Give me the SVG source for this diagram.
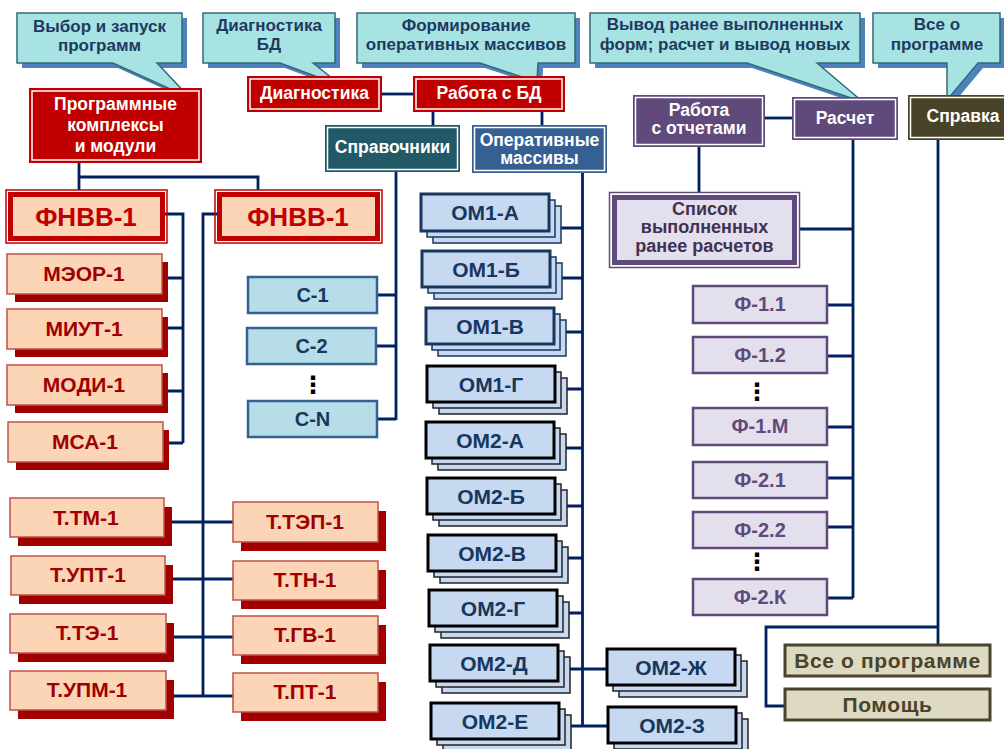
<svg xmlns="http://www.w3.org/2000/svg" width="1004" height="749" viewBox="0 0 1004 749">
<style>
text{font-family:"Liberation Sans",Arial,sans-serif;font-weight:bold;text-anchor:middle}
.co{fill:#A8E3E4;stroke:#2F6B78;stroke-width:1.5}
.cosh{fill:#4F81BD}
.cot{fill:#1F3A5F;font-size:17px}
.red{fill:#C00000}
.wl{fill:none;stroke:#fff;stroke-width:1.5}
.wt{fill:#fff;font-size:17.5px}
.fo{fill:none;stroke:#C00000;stroke-width:1.5}
.fi{fill:#FBD5B5;stroke:#C00000;stroke-width:5}
.ft{fill:#C00000;font-size:26px}
.pk{fill:#FBD5B5;stroke:#C0504D;stroke-width:1.5}
.sh{fill:#A00000}
.pt{fill:#A00000;font-size:21px}
.cb{fill:#B7DEE8;stroke:#366092;stroke-width:2.5}
.ct{fill:#17375E;font-size:20px}
.om{fill:#C6D9F1;stroke:#17375E;stroke-width:1.5}
.omf{fill:#C6D9F1;stroke:#17375E;stroke-width:3}
.omk{fill:#C6D9F1;stroke:#000;stroke-width:3}
.omb{fill:#C6D9F1;stroke:#222;stroke-width:1.5}
.ot{fill:#17375E;font-size:21px}
.fb{fill:#E4DFEC;stroke:#604A7B;stroke-width:2.5}
.fbt{fill:#604A7B;font-size:20px}
.bb{fill:#DDD9C3;stroke:#4A452A;stroke-width:3}
.bt{fill:#494429;font-size:21px;letter-spacing:0.6px}
.st{fill:#3F3151;font-size:18px}
.dots{fill:#000;font-family:"DejaVu Sans",sans-serif;font-size:24px;font-weight:bold}
#connectors path{fill:none;stroke:#002060;stroke-width:2.8}
</style>

<g id="connectors">
<path d="M79,163 V190 M79,177 H258 V190"/>
<path d="M382,94 H413"/>
<path d="M433,112 V125 M542,112 V125"/>
<path d="M396,172 V420 M377,295 H396 M376,346 H396 M377,419 H396"/>
<path d="M582.5,173 V726 M560,228 H582 M561,278 H582 M566,332 H582 M567,389 H582 M566,448 H582 M567,506 H582 M568,558 H582 M569,613 H582 M570,669 H607 M570,726 H608"/>
<path d="M160,214 H183 V443 M162,278 H183 M165,328 H183 M165,391 H183 M165,443 H183"/>
<path d="M218,214 H203 V696 M172,522 H233 M172,579 H233 M172,637 H233 M172,696 H233"/>
<path d="M699,147 V192"/>
<path d="M765,118 H792"/>
<path d="M853,140 V598 M800,229 H853 M827,305 H853 M827,356 H853 M827,427 H853 M827,478 H853 M827,527 H853 M827,598 H853"/>
<path d="M938,140 V645 M938,627 H766 V706 H785"/>
</g>

<!-- callouts -->
<g id="callout-vybor">
<polygon class="cosh" transform="translate(5,5)" points="17,13 182,13 182,63 157,63 190,98 113,63 17,63"/>
<polygon class="co" points="17,13 182,13 182,63 157,63 190,98 113,63 17,63"/>
<text class="cot" x="99.5" y="32">Выбор и запуск</text>
<text class="cot" x="99.5" y="51">программ</text>
</g>
<g id="callout-diag">
<polygon class="cosh" transform="translate(5,5)" points="203,13 335,13 335,63 313,63 342,86 280,63 203,63"/>
<polygon class="co" points="203,13 335,13 335,63 313,63 342,86 280,63 203,63"/>
<text class="cot" x="269" y="31">Диагностика</text>
<text class="cot" x="269" y="50">БД</text>
</g>
<g id="callout-form">
<polygon class="cosh" transform="translate(5,5)" points="357,13 575,13 575,63 538,63 537,82 480,63 357,63"/>
<polygon class="co" points="357,13 575,13 575,63 538,63 537,82 480,63 357,63"/>
<text class="cot" x="466" y="31">Формирование</text>
<text class="cot" x="466" y="50">оперативных массивов</text>
</g>
<g id="callout-vyvod">
<polygon class="cosh" transform="translate(5,5)" points="590,13 860,13 860,63 817,63 863,102 747,63 590,63"/>
<polygon class="co" points="590,13 860,13 860,63 817,63 863,102 747,63 590,63"/>
<text class="cot" x="725" y="30">Вывод ранее выполненных</text>
<text class="cot" x="725" y="50">форм; расчет и вывод новых</text>
</g>
<g id="callout-vse">
<polygon class="cosh" transform="translate(5,5)" points="873,13 1000,13 1000,63 978,63 947,100 947,63 873,63"/>
<polygon class="co" points="873,13 1000,13 1000,63 978,63 947,100 947,63 873,63"/>
<text class="cot" x="937" y="30">Все о</text>
<text class="cot" x="937" y="50">программе</text>
</g>

<!-- top red boxes -->
<g id="programmnye">
<rect class="red" x="29" y="88" width="173" height="75"/>
<rect class="wl" x="32" y="91" width="167" height="69"/>
<text class="wt" x="115.5" y="110">Программные</text>
<text class="wt" x="115.5" y="131">комплексы</text>
<text class="wt" x="115.5" y="152">и модули</text>
</g>
<g id="diagnostika">
<rect class="red" x="247" y="76" width="135" height="36"/>
<rect class="wl" x="250" y="79" width="129" height="30"/>
<text class="wt" x="314.5" y="99">Диагностика</text>
</g>
<g id="rabota-bd">
<rect class="red" x="413" y="76" width="152" height="36"/>
<rect class="wl" x="416" y="79" width="146" height="30"/>
<text class="wt" x="489" y="99">Работа с БД</text>
</g>
<g id="spravochniki">
<rect x="325" y="125" width="135" height="47" fill="#215967"/>
<rect class="wl" x="327.5" y="127.5" width="130" height="42"/>
<text class="wt" x="392.5" y="153">Справочники</text>
</g>
<g id="operativnye">
<rect x="472" y="125" width="135" height="48" fill="#366092"/>
<rect class="wl" x="474.5" y="127.5" width="130" height="43"/>
<text class="wt" x="539.5" y="146">Оперативные</text>
<text class="wt" x="539.5" y="164">массивы</text>
</g>
<g id="rabota-otchety">
<rect x="633" y="95" width="132" height="52" fill="#604A7B"/>
<rect class="wl" x="635.5" y="97.5" width="127" height="47"/>
<text class="wt" x="699" y="116">Работа</text>
<text class="wt" x="699" y="134">с отчетами</text>
</g>
<g id="raschet">
<rect x="792" y="97" width="106" height="43" fill="#604A7B"/>
<rect class="wl" x="794.5" y="99.5" width="101" height="38"/>
<text class="wt" x="845" y="124">Расчет</text>
</g>
<g id="spravka">
<rect x="908" y="95" width="110" height="45" fill="#494429"/>
<rect class="wl" x="910.5" y="97.5" width="105" height="40"/>
<text class="wt" x="963" y="122">Справка</text>
</g>
<g id="spisok">
<rect x="609.5" y="192.5" width="190" height="75" fill="#fff" stroke="#604A7B" stroke-width="1.5"/>
<rect x="614.5" y="197.5" width="180" height="65" fill="#E4DFEC" stroke="#604A7B" stroke-width="5"/>
<text class="st" x="704.5" y="215">Список</text>
<text class="st" x="704.5" y="233">выполненных</text>
<text class="st" x="704.5" y="252">ранее расчетов</text>
</g>

<!-- ФНВВ -->
<g id="fnvv-left">
<rect class="fo" x="6" y="190" width="161" height="53"/>
<rect class="fi" x="10.5" y="194.5" width="152" height="44"/>
<text class="ft" x="86" y="226">ФНВВ-1</text>
</g>
<g id="fnvv-right">
<rect class="fo" x="215" y="190" width="167" height="53"/>
<rect class="fi" x="219.5" y="194.5" width="158" height="44"/>
<text class="ft" x="298" y="226">ФНВВ-1</text>
</g>

<!-- М boxes -->
<g id="meor"><rect class="sh" x="15" y="262" width="153" height="40"/><rect class="pk" x="7" y="254" width="155" height="40"/><text class="pt" x="84" y="281">МЭОР-1</text></g>
<g id="miut"><rect class="sh" x="15" y="317" width="153" height="40"/><rect class="pk" x="7" y="309" width="155" height="40"/><text class="pt" x="84" y="336">МИУТ-1</text></g>
<g id="modi"><rect class="sh" x="15" y="373" width="153" height="40"/><rect class="pk" x="7" y="365" width="155" height="40"/><text class="pt" x="84" y="392">МОДИ-1</text></g>
<g id="msa"><rect class="sh" x="16" y="430" width="153" height="40"/><rect class="pk" x="8" y="422" width="155" height="40"/><text class="pt" x="85" y="449">МСА-1</text></g>

<!-- Т boxes -->
<g id="ttm"><rect class="sh" x="18" y="507" width="154" height="39"/><rect class="pk" x="10" y="498" width="154" height="39"/><text class="pt" x="86" y="525">Т.ТМ-1</text></g>
<g id="tupt"><rect class="sh" x="19" y="565" width="154" height="39"/><rect class="pk" x="11" y="556" width="154" height="39"/><text class="pt" x="88" y="582">Т.УПТ-1</text></g>
<g id="tte"><rect class="sh" x="18" y="623" width="156" height="39"/><rect class="pk" x="10" y="614" width="156" height="39"/><text class="pt" x="87" y="640">Т.ТЭ-1</text></g>
<g id="tupm"><rect class="sh" x="18" y="680" width="156" height="39"/><rect class="pk" x="10" y="671" width="156" height="39"/><text class="pt" x="87" y="697">Т.УПМ-1</text></g>
<g id="ttep"><rect class="sh" x="241" y="511" width="145" height="40"/><rect class="pk" x="233" y="502" width="145" height="40"/><text class="pt" x="305" y="529">Т.ТЭП-1</text></g>
<g id="ttn"><rect class="sh" x="241" y="570" width="145" height="39"/><rect class="pk" x="233" y="561" width="145" height="39"/><text class="pt" x="305" y="587">Т.ТН-1</text></g>
<g id="tgv"><rect class="sh" x="241" y="625" width="145" height="39"/><rect class="pk" x="233" y="616" width="145" height="39"/><text class="pt" x="305" y="642">Т.ГВ-1</text></g>
<g id="tpt"><rect class="sh" x="241" y="682" width="145" height="39"/><rect class="pk" x="233" y="673" width="145" height="39"/><text class="pt" x="305" y="699">Т.ПТ-1</text></g>

<!-- С boxes -->
<g id="c1"><rect class="cb" x="248" y="277" width="129" height="36"/><text class="ct" x="312.5" y="302">С-1</text></g>
<g id="c2"><rect class="cb" x="247" y="328" width="129" height="36"/><text class="ct" x="311.5" y="353">С-2</text></g>
<text class="dots" x="313" y="393">⋮</text>
<g id="cn"><rect class="cb" x="248" y="401" width="129" height="36"/><text class="ct" x="312.5" y="426">С-N</text></g>

<!-- ОМ stacks -->
<g id="om1a"><rect class="om" x="433" y="206" width="128" height="37"/><rect class="om" x="427" y="200" width="128" height="37"/><rect class="omf" x="421" y="194" width="128" height="37"/><text class="ot" x="485" y="220">ОМ1-А</text></g>
<g id="om1b"><rect class="om" x="434" y="263" width="128" height="36"/><rect class="om" x="428" y="257" width="128" height="36"/><rect class="omf" x="422" y="251" width="128" height="36"/><text class="ot" x="486" y="277">ОМ1-Б</text></g>
<g id="om1v"><rect class="om" x="438" y="320" width="128" height="36"/><rect class="om" x="432" y="314" width="128" height="36"/><rect class="omf" x="426" y="308" width="128" height="36"/><text class="ot" x="490" y="334">ОМ1-В</text></g>
<g id="om1g"><rect class="omb" x="439" y="378" width="128" height="36"/><rect class="omb" x="433" y="372" width="128" height="36"/><rect class="omk" x="427" y="366" width="128" height="36"/><text class="ot" x="491" y="392">ОМ1-Г</text></g>
<g id="om2a"><rect class="omb" x="438" y="434" width="128" height="36"/><rect class="omb" x="432" y="428" width="128" height="36"/><rect class="omk" x="426" y="422" width="128" height="36"/><text class="ot" x="490" y="448">ОМ2-А</text></g>
<g id="om2b"><rect class="omb" x="439" y="490" width="128" height="36"/><rect class="omb" x="433" y="484" width="128" height="36"/><rect class="omk" x="427" y="478" width="128" height="36"/><text class="ot" x="491" y="504">ОМ2-Б</text></g>
<g id="om2v"><rect class="omb" x="440" y="547" width="128" height="36"/><rect class="omb" x="434" y="541" width="128" height="36"/><rect class="omk" x="428" y="535" width="128" height="36"/><text class="ot" x="492" y="561">ОМ2-В</text></g>
<g id="om2g"><rect class="omb" x="441" y="602" width="128" height="36"/><rect class="omb" x="435" y="596" width="128" height="36"/><rect class="omk" x="429" y="590" width="128" height="36"/><text class="ot" x="493" y="616">ОМ2-Г</text></g>
<g id="om2d"><rect class="omb" x="442" y="657" width="128" height="36"/><rect class="omb" x="436" y="651" width="128" height="36"/><rect class="omk" x="430" y="645" width="128" height="36"/><text class="ot" x="494" y="671">ОМ2-Д</text></g>
<g id="om2e"><rect class="omb" x="443" y="715" width="128" height="36"/><rect class="omb" x="437" y="709" width="128" height="36"/><rect class="omk" x="431" y="703" width="128" height="36"/><text class="ot" x="495" y="729">ОМ2-Е</text></g>
<g id="om2zh"><rect class="omb" x="619" y="661" width="128" height="36"/><rect class="omb" x="613" y="655" width="128" height="36"/><rect class="omk" x="607" y="649" width="128" height="36"/><text class="ot" x="671" y="675">ОМ2-Ж</text></g>
<g id="om2z"><rect class="omb" x="620" y="719" width="128" height="36"/><rect class="omb" x="614" y="713" width="128" height="36"/><rect class="omk" x="608" y="707" width="128" height="36"/><text class="ot" x="672" y="733">ОМ2-З</text></g>

<!-- Ф boxes -->
<g id="f11"><rect class="fb" x="693" y="286" width="134" height="37"/><text class="fbt" x="760" y="311">Ф-1.1</text></g>
<g id="f12"><rect class="fb" x="693" y="337" width="134" height="36"/><text class="fbt" x="760" y="362">Ф-1.2</text></g>
<text class="dots" x="757" y="400">⋮</text>
<g id="f1m"><rect class="fb" x="693" y="408" width="134" height="37"/><text class="fbt" x="760" y="433">Ф-1.М</text></g>
<g id="f21"><rect class="fb" x="693" y="462" width="134" height="36"/><text class="fbt" x="760" y="487">Ф-2.1</text></g>
<g id="f22"><rect class="fb" x="693" y="512" width="134" height="36"/><text class="fbt" x="760" y="537">Ф-2.2</text></g>
<text class="dots" x="757" y="570">⋮</text>
<g id="f2k"><rect class="fb" x="693" y="579" width="134" height="36"/><text class="fbt" x="760" y="604">Ф-2.К</text></g>

<!-- bottom right -->
<g id="vse"><rect class="bb" x="785" y="645" width="205" height="31"/><text class="bt" x="887.5" y="668">Все о программе</text></g>
<g id="pomosch"><rect class="bb" x="785" y="689" width="205" height="31"/><text class="bt" x="887.5" y="712">Помощь</text></g>
</svg>
